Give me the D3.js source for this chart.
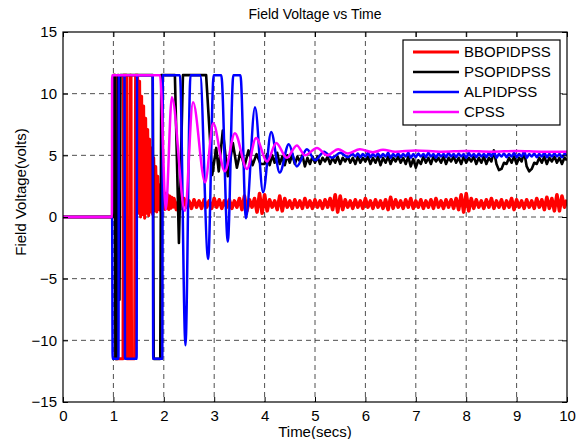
<!DOCTYPE html>
<html lang="en">
<head>
  <meta charset="UTF-8">
  <script src="https://d3js.org/d3.v7.min.js"></script>
  <style>
    body { margin: 0; background: #fff; font-family: "Liberation Sans", Arial, sans-serif; }
    .grid line { stroke: #222; stroke-width: 0.8; stroke-dasharray: 5,4; }
    .tick-label { font-size: 15px; fill: #000; }
  </style>
</head>
<body>
<div id="chart"></div>
<script>
  const xTicks = [0, 1, 2, 3, 4, 5, 6, 7, 8, 9, 10];
  const yTicks = [-15, -10, -5, 0, 5, 10, 15];
  const names = ["BBOPIDPSS", "PSOPIDPSS", "ALPIDPSS", "CPSS"];
  const colors = ["#ff0000", "#000000", "#0000ff", "#ff00ff"];

  // BBOPIDPSS: switching, then fast decaying ripple, then a noisy band near 1
  const redStart = [[0,0],[1.0,0],[1.005,11.5],[1.04,11.5],[1.05,-11.5],[1.19,-11.5],[1.2,11.5],[1.26,11.5],
    [1.27,-11.5],[1.32,-11.5],[1.33,11.5],[1.35,11.5],[1.36,-11.5],[1.42,-11.5],[1.44,11.5],[1.48,11.5],
    [1.50,0.3],[1.52,11.0],[1.54,0.0],[1.56,9.8],[1.58,0.2],[1.60,9.0],[1.62,-0.1],[1.64,8.0],[1.66,0.3],
    [1.68,7.1],[1.70,0.1],[1.72,6.3],[1.74,0.4],[1.76,5.6],[1.78,0.2],[1.80,4.8],[1.82,0.5],[1.84,4.1],
    [1.86,0.4],[1.88,3.3],[1.90,0.6],[1.92,2.6],[1.94,0.5],[1.96,2.3],[1.98,0.7],[2.00,2.1],[2.02,0.6],
    [2.04,1.9],[2.06,0.7],[2.08,1.8],[2.10,0.6],[2.12,1.7],[2.14,0.7],[2.16,1.6],[2.18,0.7]];
  const redTail = [
    1.5,0.6,1.4,0.7,1.5,0.8,1.3,0.7,1.4,0.8,
    1.3,0.7,1.4,0.8,1.3,0.7,1.5,0.8,1.4,0.7,
    1.3,0.8,1.4,0.7,1.3,0.8,1.5,0.6,1.7,0.5,
    1.4,0.8,1.5,0.4,1.9,0.3,1.8,0.5,1.4,0.8,
    1.3,0.6,1.7,0.5,1.5,0.8,1.3,0.7,1.4,0.8,
    1.3,0.7,1.5,0.8,1.3,0.7,1.4,0.8,1.3,0.7,
    1.4,0.8,1.5,0.6,1.8,0.4,1.7,0.6,1.4,0.8,
    1.3,0.7,1.4,0.8,1.3,0.7,1.5,0.8,1.3,0.7,
    1.4,0.8,1.3,0.7,1.4,0.6,1.6,0.7,1.4,0.8,
    1.3,0.7,1.4,0.8,1.5,0.7,1.3,0.8,1.4,0.7,
    1.3,0.8,1.4,0.7,1.5,0.8,1.3,0.7,1.4,0.8,
    1.4,0.7,1.5,0.6,1.8,0.4,1.9,0.5,1.5,0.7,
    1.4,0.8,1.3,0.7,1.4,0.8,1.5,0.7,1.3,0.8,
    1.4,0.7,1.3,0.8,1.5,0.6,1.4,0.8,1.3,0.7,
    1.4,0.8,1.3,0.7,1.5,0.8,1.4,0.6,1.6,0.7,
    1.5,0.5,1.8,0.5,1.7,0.8,1.4];

  // PSOPIDPSS
  const blackStart = [[0,0],[0.99,0],[1.0,11.5],[1.03,11.5],[1.04,-11.5],[1.08,-11.5],[1.09,11.5],[1.10,11.5],
    [1.12,-6.7],[1.14,11.5],[1.78,11.5],[1.80,-11.5],[1.93,-11.5],[1.95,11.5],[2.22,11.5],[2.30,-2.1],
    [2.38,11.5],[2.84,11.5],[2.96,3.4],[3.04,5.6],[3.09,3.7],[3.17,7.0],[3.27,3.3],[3.37,6.0],[3.45,4.0],
    [3.52,5.3],[3.60,4.1],[3.68,5.4],[3.76,4.2],[3.84,5.1],[3.92,4.3]];
  const blackTail = [
    4.3,5.1,4.2,5.0,4.4,5.2,4.3,4.9,4.2,5.0,
    4.4,5.1,4.3,4.9,4.5,5.0,4.1,4.8,4.3,4.9,
    4.4,4.9,4.3,4.8,4.5,4.9,4.3,4.8,4.4,4.9,
    4.3,4.8,4.5,4.9,4.4,4.8,4.3,4.9,4.4,4.8,
    4.5,4.9,4.3,4.8,4.4,4.9,4.2,4.8,4.4,4.9,
    4.3,4.8,4.5,4.9,4.4,4.8,4.3,4.9,4.1,4.7,
    4.0,4.6,4.3,4.9,4.4,4.8,4.3,4.9,4.5,4.8,
    4.4,4.9,4.3,4.8,4.5,4.9,4.4,4.8,4.3,4.9,
    4.4,4.8,4.5,4.9,4.3,4.8,4.4,4.9,4.3,4.8,
    4.5,5.4,4.3,3.8,3.9,4.4,4.3,4.8,4.4,4.9,
    4.3,4.8,4.5,5.3,4.1,3.7,3.9,4.4,4.3,4.8,
    4.4,4.9,4.3,4.8,4.5,4.9,4.4,4.8,4.3,4.8,
    4.6];

  // ALPIDPSS
  const blueStart = [[0,0],[0.975,0],[0.985,-11.5],[1.10,-11.5],[1.11,11.5],[1.22,11.5],[1.23,-11.5],
    [1.46,-11.5],[1.47,11.5],[1.78,11.5],[1.79,-11.5],[1.97,-11.5],[1.98,11.5],[2.32,11.5],[2.43,-10.4],
    [2.53,11.5],[2.72,11.5],[2.88,-3.4],[2.99,11.5],[3.14,11.5],[3.27,-2.0],[3.38,11.5],[3.52,11.5],
    [3.63,-0.1],[3.81,8.9],[3.97,2.0],[4.13,6.9],[4.30,3.6],[4.48,5.9],[4.64,4.1],[4.84,5.5],[5.00,4.6],
    [5.18,5.3],[5.34,4.8],[5.50,5.2],[5.65,4.85]];
  const blueTail = [
    5.1,4.9,5.15,4.85,5.1,4.9,5.2,4.85,5.1,4.9,
    5.15,4.85,5.1,4.9,5.2,4.8,5.1,4.9,5.15,4.85,
    5.1,4.9,5.2,4.8,5.1,4.85,5.15,4.9,5.1,4.85,
    5.2,4.9,5.1,4.8,5.15,4.9,5.1,4.85,5.2,4.9,
    5.1,4.85,5.15,4.9,5.1,4.8,5.2,4.9,5.1,4.85,
    5.15,4.9,5.1,4.85,5.2,4.9,5.3,4.8,5.1,4.9,
    5.15,4.85,5.1,4.9,5.2,4.85,5.1,4.9,5.3,4.8,
    5.1,4.9,5.15,4.85,5.1,4.9,5.2,4.85,5.1,4.9,
    5.15,4.9,5.1,4.85,5.1,5.0];

  // CPSS
  const magentaPts = [[0,0],[0.97,0],[0.975,11.5],[1.925,11.5],[2.04,0.6],[2.16,9.7],[2.42,0.5],[2.58,9.3],
    [2.82,2.8],[2.98,7.6],[3.21,3.7],[3.41,6.8],[3.65,3.9],[3.83,6.4],[4.05,4.5],[4.23,6.0],[4.44,4.8],
    [4.64,5.8],[4.80,5.0],[5.04,5.6],[5.24,5.0],[5.46,5.5],[5.65,5.15],[5.89,5.5],[6.15,5.25],[6.35,5.45],
    [6.59,5.3],[7.0,5.4],[7.5,5.3],[8.0,5.35],[8.5,5.3],[9.0,5.35],[9.5,5.3],[10,5.3]];

  function tailPts(t0, step, vals) {
    return vals.map((v, i) => [+(t0 + i * step).toFixed(3), v]);
  }

  // each series may be drawn in pieces; the noisy tails get a slightly heavier pen
  const paths = [
    { c: 0, pts: redStart, width: 3, curve: d3.curveLinear },
    { c: 0, pts: redStart.slice(-1).concat(tailPts(2.2, 0.05, redTail)), width: 3.6, curve: d3.curveLinear },
    { c: 1, pts: blackStart.concat(tailPts(4.0, 0.05, blackTail)), width: 2.6, curve: d3.curveLinear },
    { c: 2, pts: blueStart.concat(tailPts(5.75, 0.05, blueTail)), width: 2.5, curve: d3.curveMonotoneX },
    { c: 3, pts: magentaPts, width: 2.5, curve: d3.curveMonotoneX }
  ];

  const width = 581, height = 439;
  const m = { left: 63, right: 14, top: 32, bottom: 37 };
  const iw = width - m.left - m.right, ih = height - m.top - m.bottom;

  const svg = d3.select("#chart").append("svg")
    .attr("width", width).attr("height", height);

  const x = d3.scaleLinear().domain([0, 10]).range([0, iw]);
  const y = d3.scaleLinear().domain([-15, 15]).range([ih, 0]);

  const g = svg.append("g").attr("transform", `translate(${m.left},${m.top})`);

  g.append("clipPath").attr("id", "clip")
    .append("rect").attr("width", iw).attr("height", ih);

  // grid
  const grid = g.append("g").attr("class", "grid");
  grid.selectAll(".gx").data(xTicks.slice(1, -1)).enter().append("line")
    .attr("x1", d => x(d)).attr("x2", d => x(d)).attr("y1", 0).attr("y2", ih);
  grid.selectAll(".gy").data(yTicks.slice(1, -1)).enter().append("line")
    .attr("y1", d => y(d)).attr("y2", d => y(d)).attr("x1", 0).attr("x2", iw);

  // lines
  const lines = g.append("g").attr("clip-path", "url(#clip)");
  paths.forEach(p => {
    const line = d3.line().x(d => x(d[0])).y(d => y(d[1])).curve(p.curve);
    lines.append("path")
      .attr("d", line(p.pts))
      .attr("fill", "none")
      .attr("stroke", colors[p.c])
      .attr("stroke-width", p.width)
      .attr("stroke-linejoin", "round");
  });

  // axes, ticks inside on all sides
  const tk = 5;
  const bottomAxis = d3.axisBottom(x).tickValues(xTicks).tickSize(-tk).tickPadding(8).tickFormat(d3.format("d"));
  const topAxis = d3.axisTop(x).tickValues(xTicks).tickSize(-tk).tickFormat("");
  const leftAxis = d3.axisLeft(y).tickValues(yTicks).tickSize(-tk).tickPadding(6).tickFormat(d3.format("d"));
  const rightAxis = d3.axisRight(y).tickValues(yTicks).tickSize(-tk).tickFormat("");

  g.append("g").attr("transform", `translate(0,${ih})`).call(bottomAxis);
  g.append("g").call(topAxis);
  g.append("g").call(leftAxis);
  g.append("g").attr("transform", `translate(${iw},0)`).call(rightAxis);

  g.selectAll(".domain").remove();
  g.selectAll(".tick line").attr("stroke", "#000").attr("stroke-width", 1);
  g.selectAll(".tick text").attr("class", "tick-label").style("font-family", "Liberation Sans, Arial, sans-serif");

  g.append("rect").attr("width", iw).attr("height", ih)
    .attr("fill", "none").attr("stroke", "#000").attr("stroke-width", 1.2);

  // titles
  svg.append("text").attr("x", m.left + iw / 2).attr("y", 19)
    .attr("text-anchor", "middle").style("font-size", "14px").text("Field Voltage vs Time");
  svg.append("text").attr("x", m.left + iw / 2).attr("y", 437)
    .attr("text-anchor", "middle").style("font-size", "15px").text("Time(secs)");
  svg.append("text").attr("transform", "translate(26,192) rotate(-90)")
    .attr("text-anchor", "middle").style("font-size", "15px").text("Field Voltage(volts)");

  // legend
  const lg = svg.append("g").attr("transform", "translate(403,40)");
  lg.append("rect").attr("width", 157).attr("height", 85)
    .attr("fill", "#fff").attr("stroke", "#000").attr("stroke-width", 1.2);
  names.forEach((n, i) => {
    const yy = 12 + i * 20;
    lg.append("line").attr("x1", 10).attr("x2", 56).attr("y1", yy).attr("y2", yy)
      .attr("stroke", colors[i]).attr("stroke-width", i === 0 ? 3 : 2.5);
    lg.append("text").attr("x", 61).attr("y", yy + 5).style("font-size", "15px").text(n);
  });
</script>
</body>
</html>
